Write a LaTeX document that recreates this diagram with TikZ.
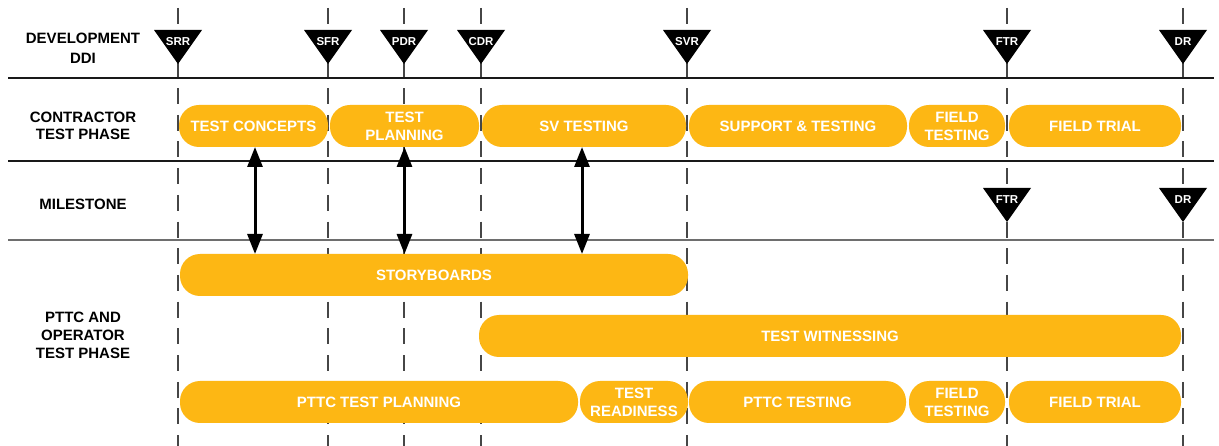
\documentclass[tikz,border=0pt]{standalone}
\usepackage{fontspec}
\setmainfont{Liberation Sans}
\usetikzlibrary{arrows.meta}
\definecolor{barc}{RGB}{253,183,20}
\definecolor{dashc}{RGB}{70,70,70}
\definecolor{rulec}{RGB}{25,25,25}
\definecolor{rulegray}{RGB}{110,110,110}
\newcommand\milestonetri[4]{%
  \fill[black] (#1-24,#2) -- (#1+24,#2) -- (#1,#2+34) -- cycle;
  \node[msl] (#3) at (#1,#2+12) {#4};}
\begin{document}
\begin{tikzpicture}[x=1pt,y=-1pt,
  bar/.style={fill=barc, draw=none, rounded corners=20pt, minimum height=42pt,
    inner sep=0pt, outer sep=0pt, text=white,
    font=\fontsize{15}{18}\selectfont\bfseries, align=center},
  rowlabel/.style={font=\fontsize{15}{18}\selectfont\bfseries, align=center,
    text=black, inner sep=0pt},
  tick/.style={draw=dashc, line width=1.4pt, dash pattern=on 16pt off 10.7pt},
  rule/.style={draw=rulec, line width=1.4pt},
  msl/.style={text=white, font=\fontsize{11.5}{13}\selectfont\bfseries, inner sep=0pt},
  biarrow/.style={line width=3pt,
    {Triangle[length=20pt,width=15pt]}-{Triangle[length=20pt,width=15pt]}}
]
\fill[white] (0,0) rectangle (1219,446);
\useasboundingbox (0,0) rectangle (1219,446);

% milestone guide lines
\foreach \x in {178,328,404,481,687,1007,1183}
  \draw[tick] (\x,8) -- (\x,446);

% row separators
\draw[rule] (8,78) -- (1214,78);
\draw[rule] (8,161) -- (1214,161);
\draw[rule, draw=rulegray] (8,240) -- (1214,240);

% row labels
\node[rowlabel, font=\fontsize{15}{20}\selectfont\bfseries] (lddi) at (83,48.5) {DEVELOPMENT\\DDI};
\node[rowlabel, font=\fontsize{15}{17}\selectfont\bfseries] (lctp) at (83,125.5) {CONTRACTOR\\TEST PHASE};
\node[rowlabel] (lms) at (83,204) {MILESTONE};
\node[rowlabel] (lpttc) at (83,335) {PTTC AND\\OPERATOR\\TEST PHASE};

% contractor test phase
\node[bar, minimum width=149pt] (tc) at (253.5,126) {TEST CONCEPTS};
\node[bar, minimum width=149pt] (tp) at (404.5,126) {TEST\\PLANNING};
\node[bar, minimum width=204pt] (sv) at (584,126) {SV TESTING};
\node[bar, minimum width=218pt] (st) at (798,126) {SUPPORT \& TESTING};
\node[bar, minimum width=96pt] (ft) at (957,126) {FIELD\\TESTING};
\node[bar, minimum width=172pt] (ftr) at (1095,126) {FIELD TRIAL};

% PTTC and operator test phase
\node[bar, minimum width=508pt] (sb) at (434,275) {STORYBOARDS};
\node[bar, minimum width=702pt] (tw) at (830,336) {TEST WITNESSING};
\node[bar, minimum width=398pt] (ptp) at (379,402) {PTTC TEST PLANNING};
\node[bar, minimum width=108pt] (tr) at (634,402) {TEST\\READINESS};
\node[bar, minimum width=217pt] (pt) at (797.5,402) {PTTC TESTING};
\node[bar, minimum width=96pt] (ft2) at (957,402) {FIELD\\TESTING};
\node[bar, minimum width=172pt] (ftr2) at (1095,402) {FIELD TRIAL};

% development DDI milestones
\milestonetri{178}{30}{srr}{SRR}
\milestonetri{328}{30}{sfr}{SFR}
\milestonetri{404}{30}{pdr}{PDR}
\milestonetri{481}{30}{cdr}{CDR}
\milestonetri{687}{30}{svr}{SVR}
\milestonetri{1007}{30}{ftra}{FTR}
\milestonetri{1183}{30}{dra}{DR}

% milestone row
\milestonetri{1007}{188}{ftrb}{FTR}
\milestonetri{1183}{188}{drb}{DR}

% links
\draw[biarrow] ([xshift=1.5pt]tc.south) -- ([xshift=1.5pt]tc.south |- sb.north);
\draw[biarrow] (tp.south) -- (tp.south |- sb.north);
\draw[biarrow] ([xshift=-2pt]sv.south) -- ([xshift=-2pt]sv.south |- sb.north);
\end{tikzpicture}
\end{document}
